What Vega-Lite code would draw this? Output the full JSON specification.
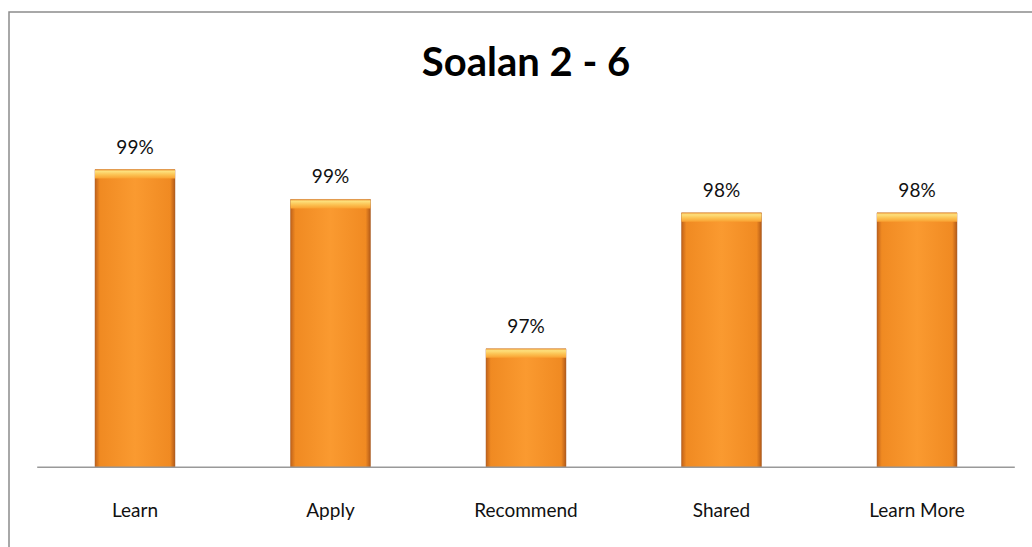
{
  "$schema": "https://vega.github.io/schema/vega-lite/v6.json",
  "width": 1034,
  "height": 548,
  "autosize": {"type": "none"},
  "padding": {"left": 9, "top": 12, "right": 0, "bottom": 0},
  "background": "white",
  "config": {
    "view": {"stroke": "#8c8c8c", "strokeWidth": 1.5},
    "font": "Lato"
  },
  "title": {
    "text": "Soalan 2 - 6",
    "font": "Lato",
    "fontSize": 40,
    "fontWeight": "bold",
    "color": "#000000",
    "anchor": "middle",
    "frame": "group",
    "offset": -65,
    "dy": 39,
    "baseline": "alphabetic"
  },
  "data": {
    "values": [
      {"item": "Learn", "pct": 0.9889},
      {"item": "Apply", "pct": 0.986},
      {"item": "Recommend", "pct": 0.9715},
      {"item": "Shared", "pct": 0.9847},
      {"item": "Learn More", "pct": 0.9847}
    ]
  },
  "layer": [
    {
      "mark": {
        "type": "bar",
        "fill": {
          "gradient": "linear",
          "x1": 0, "y1": 0, "x2": 1, "y2": 0,
          "stops": [
            {"offset": 0, "color": "#c0621a"},
            {"offset": 0.06, "color": "#f08a22"},
            {"offset": 0.5, "color": "#fa9a30"},
            {"offset": 0.94, "color": "#f08a22"},
            {"offset": 1, "color": "#b35a18"}
          ]
        },
        "stroke": "#a65a22",
        "strokeWidth": 0.8,
        "strokeOpacity": 0.6
      },
      "encoding": {
        "x": {
          "field": "item",
          "type": "nominal",
          "sort": null,
          "scale": {
            "domain": ["Learn", "Apply", "Recommend", "Shared", "Learn More"],
            "paddingInner": 0.591,
            "paddingOuter": 0.44
          },
          "axis": {
            "title": null,
            "domain": false,
            "ticks": false,
            "tickSize": 0,
            "labelPadding": 0,
            "offset": -44,
            "labelAngle": 0,
            "labelBaseline": "alphabetic",
            "labelFont": "Lato",
            "labelFontSize": 19,
            "labelColor": "#111111",
            "grid": false
          }
        },
        "y": {
          "field": "pct",
          "type": "quantitative",
          "scale": {"domain": [0.951, 1.0042], "nice": false, "zero": false},
          "axis": null
        },
        "y2": {"datum": 0.96}
      }
    },
    {
      "mark": {
        "type": "tick",
        "size": 80,
        "thickness": 9,
        "yOffset": 4.5,
        "opacity": 1,
        "fill": {
          "gradient": "linear",
          "x1": 0, "y1": 0, "x2": 0, "y2": 1,
          "stops": [
            {"offset": 0, "color": "#f0a040"},
            {"offset": 0.2, "color": "#fde07c"},
            {"offset": 0.55, "color": "#fcc455"},
            {"offset": 1, "color": "#f9a030"}
          ]
        }
      },
      "encoding": {
        "x": {"field": "item", "type": "nominal", "sort": null},
        "y": {"field": "pct", "type": "quantitative"}
      }
    },
    {
      "mark": {
        "type": "text",
        "dy": -16,
        "baseline": "alphabetic",
        "font": "Lato",
        "fontSize": 19,
        "color": "#111111"
      },
      "encoding": {
        "x": {"field": "item", "type": "nominal", "sort": null},
        "y": {"field": "pct", "type": "quantitative"},
        "text": {"field": "pct", "type": "quantitative", "format": ".0%"}
      }
    },
    {
      "data": {"values": [{"from": "Learn", "to": "Learn More", "base": 0.96}]},
      "mark": {"type": "rule", "color": "#999999", "strokeWidth": 1.5, "xOffset": -97.8, "x2Offset": 97.8},
      "encoding": {
        "x": {"field": "from", "type": "nominal"},
        "x2": {"field": "to"},
        "y": {"field": "base", "type": "quantitative"}
      }
    }
  ]
}
